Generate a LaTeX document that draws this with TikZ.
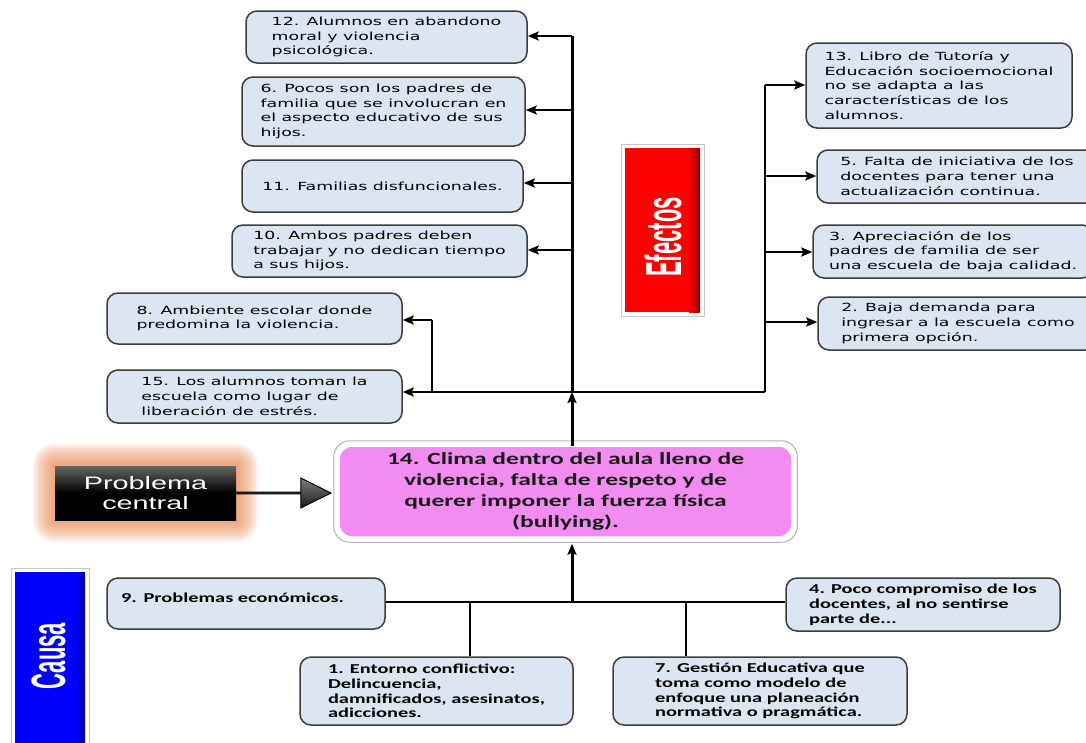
\documentclass[tikz,border=0pt]{standalone}
\usepackage{fontspec}
\usepackage{graphicx}
\setmainfont{DejaVu Sans}
\newfontfamily\effont[FakeStretch=1.55]{DejaVu Sans}
\newfontfamily\cafont[FakeStretch=1.5]{Carlito}
\newfontfamily\arfont[FakeStretch=1.6]{Liberation Sans}
\newfontfamily\lbfont{Liberation Sans}
\usetikzlibrary{arrows.meta,shapes.arrows,calc}

\definecolor{boxfill}{RGB}{220,230,242}
\definecolor{boxline}{RGB}{60,60,60}
\definecolor{pinkfill}{RGB}{242,140,240}
\definecolor{glow}{RGB}{236,140,86}
\definecolor{efred}{RGB}{255,0,0}
\definecolor{cablue}{RGB}{0,0,255}

\tikzset{
  ebox/.style={draw=boxline, fill=boxfill, line width=1.5pt, rounded corners=11pt,
    align=left, inner sep=0pt, font=\effont\fontsize{11.2}{14.7}\selectfont},
  cbox/.style={draw=boxline, fill=boxfill, line width=1.5pt, rounded corners=11pt,
    align=left, inner sep=0pt, font=\cafont\bfseries\fontsize{13.6}{14.8}\selectfont},
  trunk/.style={line width=3pt, black},
  branch/.style={line width=2.3pt, black},
  arr/.style={-{Stealth[length=11pt,width=9pt,inset=2pt]}},
  banner/.style={rotate=90, text=white, inner sep=0pt,
    font=\lbfont\bfseries\fontsize{22}{22}\selectfont},
}

\begin{document}
\begin{tikzpicture}[x=1pt,y=-1pt]
\useasboundingbox[fill=white] (0,0) rectangle (1086,742);

% ---------- effects (left column) ----------
\node (e12) [ebox, minimum width=281, minimum height=52] at (386.5,37)
  {12. Alumnos en abandono\\moral y violencia\\psicológica.};
\node (e6) [ebox, minimum width=283, minimum height=69] at (383.5,111.5)
  {6. Pocos son los padres de\\familia que se involucran en\\el aspecto educativo de sus\\hijos.};
\node (e11) [ebox, minimum width=281, minimum height=52] at (382.5,186)
  {11. Familias disfuncionales.};
\node (e10) [ebox, minimum width=295, minimum height=52] at (379.5,251)
  {10. Ambos padres deben\\trabajar y no dedican tiempo\\a sus hijos.};
\node (e8) [ebox, minimum width=295, minimum height=51] at (254.5,318.5)
  {8. Ambiente escolar donde\\predomina la violencia.};
\node (e15) [ebox, minimum width=295, minimum height=53] at (254.5,396.5)
  {15. Los alumnos toman la\\escuela como lugar de\\liberación de estrés.};

% ---------- effects (right column) ----------
\node (e13) [ebox, minimum width=266, minimum height=85] at (939,85.5)
  {13. Libro de Tutoría y\\Educación socioemocional\\no se adapta a las\\características de los\\alumnos.};
\node (e5) [ebox, minimum width=280, minimum height=53] at (957,176.5)
  {5. Falta de iniciativa de los\\docentes para tener una\\actualización continua.};
\node (e3) [ebox, minimum width=280, minimum height=53] at (953,251.5)
  {3. Apreciación de los\\padres de familia de ser\\una escuela de baja calidad.};
\node (e2) [ebox, minimum width=280, minimum height=53] at (958,323.5)
  {2. Baja demanda para\\ingresar a la escuela como\\primera opción.};

% ---------- "Efectos" banner ----------
\draw[black!22, line width=0.8pt] (621,144) rectangle (704,316);
\fill[white] (622,145) rectangle (703,315);
\fill[efred] (625,148) rectangle (700,312);
\shade[left color=efred, right color=efred!55!black] (689,148) rectangle (700,312);
\node (efectos) [banner] at (663,237) {\scalebox{1}[2.3]{Efectos}};

% ---------- central problem ----------
\node (cb) [fill=pinkfill, draw=white, line width=3.5pt, rounded corners=14pt,
  minimum width=455, minimum height=93, align=center, inner sep=0pt, text=black!90,
  font=\cafont\bfseries\fontsize{17}{21}\selectfont] at (565.5,491.5)
  {14. Clima dentro del aula lleno de\\violencia, falta de respeto y de\\querer imponer la fuerza física\\(bullying).};
\draw[black!30, line width=1pt, rounded corners=16pt]
  ($(cb.north west)+(-2.5,-2.5)$) rectangle ($(cb.south east)+(2.5,2.5)$);

% ---------- "Problema central" tag with glow ----------
\coordinate (pcc) at (145.5,493);
\foreach \d in {2,4,...,22} {
  \fill[glow, opacity=0.11, rounded corners=\d pt]
    ($(pcc)+(-90.5-\d,-27-\d)$) rectangle ($(pcc)+(90.5+\d,27+\d)$);
}
\node (pc) [minimum width=181, minimum height=54, inner sep=0pt,
  top color=black!60, bottom color=black, middle color=black,
  text=white, align=center, font=\arfont\fontsize{18}{20}\selectfont] at (pcc)
  {Problema\\central};
\node (pa) [single arrow, draw=black, line width=1pt, single arrow tip angle=53,
  single arrow head extend=8pt, minimum width=30pt, minimum height=94pt,
  inner sep=0pt, top color=black!50, bottom color=black!90]
  at (283,493) {};

% ---------- "Causa" banner ----------
\draw[black!22, line width=0.8pt] (11,568) rectangle (89,760);
\fill[white] (12,569) rectangle (88,760);
\fill[cablue] (15,572) rectangle (85,760);
\shade[left color=cablue, right color=cablue!55!black] (76,572) rectangle (85,760);
\node (causa) [banner] at (48.5,656) {\scalebox{1}[2.2]{Causa}};

% ---------- causes ----------
\node (c9) [cbox, minimum width=278, minimum height=51, text width=250,
  text depth=12pt] at (246,603.5)
  {9. Problemas económicos.};
\node (c4) [cbox, minimum width=274, minimum height=53] at (923,604.5)
  {4. Poco compromiso de los\\docentes, al no sentirse\\parte de...};
\node (c1) [cbox, minimum width=273, minimum height=68] at (436.5,691)
  {1. Entorno conflictivo:\\Delincuencia,\\damnificados, asesinatos,\\adicciones.};
\node (c7) [cbox, minimum width=294, minimum height=68] at (760,691)
  {7. Gestión Educativa que\\toma como modelo de\\enfoque una planeación\\normativa o pragmática.};

% ---------- junction points ----------
\coordinate (top) at (572,36);
\coordinate (jm) at (572,392);
\coordinate (jl) at (432,392);
\coordinate (jr) at (765,392);
\coordinate (ltop) at (432,320);
\coordinate (rtop) at (765,85);
\coordinate (b6) at (572,110);
\coordinate (b11) at (572,183);
\coordinate (b10) at (572,250);
\coordinate (b5) at (765,176);
\coordinate (b3) at (765,252);
\coordinate (b2) at (765,322);
\coordinate (cj) at (572,602);
\coordinate (c1j) at (470,602);
\coordinate (c7j) at (686,602);

% ---------- effect connectors ----------
\draw[trunk] (jm) -- (top);
\draw[branch, arr] (top) -- (top -| e12.east);
\draw[branch, arr] (b6) -- (b6 -| e6.east);
\draw[branch, arr] (b11) -- (b11 -| e11.east);
\draw[branch, arr] (b10) -- (b10 -| e10.east);
\draw[branch] (jl) -- (jr);
\draw[branch, arr] (jl) -- (jl -| e15.east);
\draw[branch] (jl) -- (ltop);
\draw[branch, arr] (ltop) -- (ltop -| e8.east);
\draw[branch] (jr) -- (rtop);
\draw[branch, arr] (rtop) -- (rtop -| e13.west);
\draw[branch, arr] (b5) -- (b5 -| e5.west);
\draw[branch, arr] (b3) -- (b3 -| e3.west);
\draw[branch, arr] (b2) -- (b2 -| e2.west);
\draw[trunk, arr] ([yshift=-3pt]cb.north -| jm) -- (jm);

% ---------- cause connectors ----------
\draw[branch] (c9.east |- cj) -- (c4.west |- cj);
\draw[branch] (c1j) -- (c1j |- c1.north);
\draw[branch] (c7j) -- (c7j |- c7.north);
\draw[trunk, arr] (cj) -- ([yshift=-4pt]cj |- cb.south);
\end{tikzpicture}
\end{document}
